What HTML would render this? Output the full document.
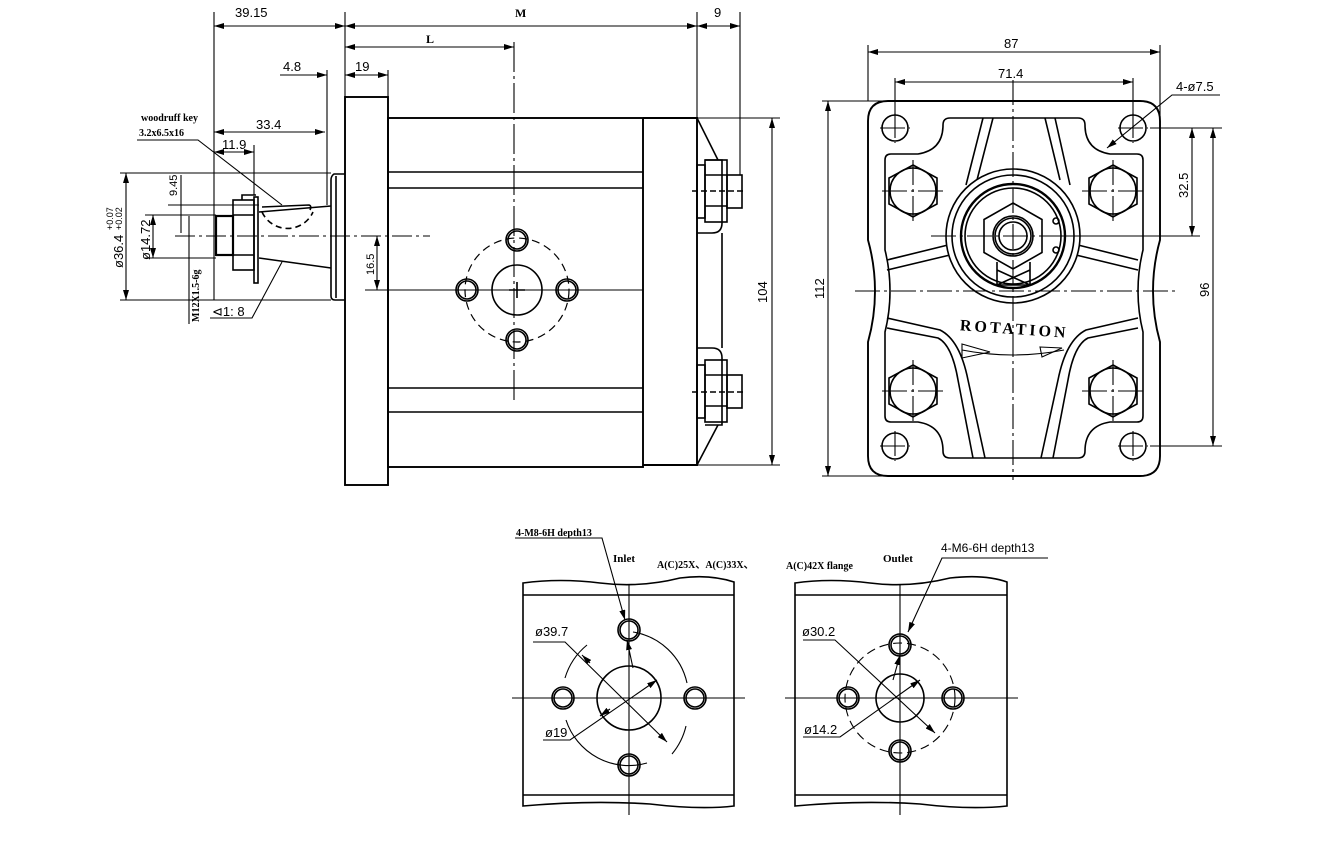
<!DOCTYPE html>
<html><head><meta charset="utf-8"><style>
html,body{margin:0;padding:0;background:#fff}
svg{display:block}
text{font-family:"Liberation Sans",sans-serif;fill:#000}
.b{font-family:"Liberation Serif",serif;font-weight:bold}
</style></head><body>
<svg width="1325" height="859" viewBox="0 0 1325 859" xmlns="http://www.w3.org/2000/svg">
<defs>
<marker id="a" viewBox="0 0 10 6" refX="10" refY="3" markerWidth="10" markerHeight="6" orient="auto-start-reverse" markerUnits="userSpaceOnUse"><path d="M0,0 L10,3 L0,6 z" fill="#000"/></marker>
</defs>
<g fill="none" stroke="#000" stroke-width="1.6">
<!-- ===== SIDE VIEW ===== -->
<rect x="345" y="97" width="43" height="388" stroke-width="1.9"/>
<rect x="388" y="118" width="255" height="349" stroke-width="1.9"/>
<line x1="388" y1="172" x2="643" y2="172"/><line x1="388" y1="188" x2="643" y2="188"/>
<line x1="388" y1="388" x2="643" y2="388"/><line x1="388" y1="412" x2="643" y2="412"/>
<path d="M643,118 L697,118 L697,465 L643,465" stroke-width="1.9"/>
<path d="M697,118 L718,160 M697,465 L718,425 M722,233 L722,348"/>
<path d="M697,233 L712,233 Q722,233 722,223 L722,160 L705,160"/>
<path d="M697,348 L712,348 Q722,348 722,358 L722,425 L705,425"/>
<!-- bolts -->
<rect x="697" y="165" width="8" height="53"/><rect x="705" y="160" width="22" height="62"/>
<line x1="705" y1="175" x2="727" y2="175"/><line x1="705" y1="206" x2="727" y2="206"/>
<rect x="727" y="175" width="15" height="33"/>
<rect x="697" y="365" width="8" height="53"/><rect x="705" y="360" width="22" height="62"/>
<line x1="705" y1="375" x2="727" y2="375"/><line x1="705" y1="406" x2="727" y2="406"/>
<rect x="727" y="375" width="15" height="33"/>
<line x1="692" y1="191" x2="745" y2="191" stroke-dasharray="6,3"/>
<line x1="692" y1="392" x2="745" y2="392" stroke-dasharray="6,3"/>
<!-- shaft -->
<path d="M345,174 L334,174 Q331,176 331,180 L331,296 Q331,300 335,300 L345,300"/>
<line x1="336" y1="176" x2="336" y2="298"/>
<path d="M331,206 L259,212 M331,268 L259,258"/>
<path d="M262,207 L309,205 Q312,206 310,210"/>
<path d="M262,212 A28,28 0 0 0 313,212" stroke-dasharray="6,4"/>
<rect x="254" y="197" width="4" height="86"/>
<rect x="233" y="200" width="21" height="70"/>
<line x1="233" y1="215" x2="254" y2="215"/><line x1="233" y1="255" x2="254" y2="255"/>
<rect x="216" y="216" width="17" height="39" stroke-width="2.2"/>
<path d="M242,200 L242,195 L256,195" />
<!-- center lines -->
<line x1="175" y1="236" x2="430" y2="236" stroke-dasharray="20,4,3,4" stroke-width="1.1"/>
<line x1="514" y1="42" x2="514" y2="400" stroke-dasharray="30,4,3,4" stroke-width="1.1"/>
<line x1="365" y1="290" x2="643" y2="290" stroke-width="1.1"/>
<!-- port -->
<circle cx="517" cy="290" r="25"/>
<path d="M509,290 h16 M517,282 v16"/>
<circle cx="517" cy="290" r="52" stroke-dasharray="8,5" stroke-width="1.2"/>
<g><circle cx="517" cy="240" r="9"/><circle cx="517" cy="240" r="11"/>
<circle cx="467" cy="290" r="9"/><circle cx="467" cy="290" r="11"/>
<circle cx="567" cy="290" r="9"/><circle cx="567" cy="290" r="11"/>
<circle cx="517" cy="340" r="9"/><circle cx="517" cy="340" r="11"/></g>
<!-- dims side -->
<g stroke-width="1.1">
<line x1="214" y1="12" x2="214" y2="300"/>
<line x1="345" y1="12" x2="345" y2="97"/>
<line x1="697" y1="12" x2="697" y2="118"/>
<line x1="740" y1="12" x2="740" y2="175"/>
<line x1="214" y1="26" x2="345" y2="26" marker-start="url(#a)" marker-end="url(#a)"/>
<line x1="345" y1="26" x2="697" y2="26" marker-start="url(#a)" marker-end="url(#a)"/>
<line x1="697" y1="26" x2="740" y2="26" marker-start="url(#a)" marker-end="url(#a)"/>
<line x1="345" y1="47" x2="514" y2="47" marker-start="url(#a)" marker-end="url(#a)"/>
<line x1="388" y1="70" x2="388" y2="97"/>
<line x1="327" y1="70" x2="327" y2="205"/>
<line x1="280" y1="75" x2="327" y2="75" marker-end="url(#a)"/>
<line x1="345" y1="75" x2="388" y2="75" marker-start="url(#a)" marker-end="url(#a)"/>
<line x1="214" y1="132" x2="325" y2="132" marker-start="url(#a)" marker-end="url(#a)"/>
<line x1="254" y1="145" x2="254" y2="195"/>
<line x1="214" y1="152" x2="254" y2="152" marker-start="url(#a)" marker-end="url(#a)"/>
<line x1="120" y1="173" x2="331" y2="173"/>
<line x1="120" y1="300" x2="331" y2="300"/>
<line x1="126" y1="173" x2="126" y2="300" marker-start="url(#a)" marker-end="url(#a)"/>
<line x1="145" y1="215" x2="216" y2="215"/>
<line x1="145" y1="258" x2="216" y2="258"/>
<line x1="153" y1="215" x2="153" y2="258" marker-start="url(#a)" marker-end="url(#a)"/>
<line x1="168" y1="205" x2="259" y2="205"/>
<line x1="181" y1="175" x2="181" y2="233"/>
<line x1="189" y1="216" x2="189" y2="324"/>
<line x1="377" y1="236" x2="377" y2="290" marker-start="url(#a)" marker-end="url(#a)"/>
<line x1="697" y1="118" x2="780" y2="118"/>
<line x1="697" y1="465" x2="780" y2="465"/>
<line x1="772" y1="118" x2="772" y2="465" marker-start="url(#a)" marker-end="url(#a)"/>
<path d="M137,140 L198,140 L282,205"/>
<path d="M210,318 L252,318 L282,262"/>
</g>
<!-- ===== FRONT VIEW ===== -->
<path d="M888,101 L1140,101 Q1160,101 1160,121 L1160,240 Q1153,265 1153,291 Q1153,317 1160,342 L1160,456 Q1160,476 1140,476 L888,476 Q868,476 868,456 L868,342 Q875,317 875,291 Q875,265 868,240 L868,121 Q868,101 888,101 Z" stroke-width="1.9"/>
<path d="M943,125 Q943,118 950,118 L1078,118 Q1085,118 1085,125 Q1085,150 1110,154 L1137,154 Q1143,154 1143,160 L1143,250 Q1138,270 1138,291 Q1138,312 1143,332 L1143,416 Q1143,422 1137,422 L1110,422 Q1085,426 1085,451 Q1085,458 1078,458 L950,458 Q943,458 943,451 Q943,426 918,422 L891,422 Q885,422 885,416 L885,332 Q890,312 890,291 Q890,270 885,250 L885,160 Q885,154 891,154 L918,154 Q943,150 943,125 Z"/>
<path d="M983,118 L966,185 M993,118 L977,180 M1045,118 L1060,180 M1055,118 L1070,185"/>
<path d="M887,260 L948,245 M887,270 L950,255 M1138,260 L1078,245 M1138,270 L1076,255"/>
<path d="M887,318 L940,330 Q960,340 968,380 L985,458 M887,328 L938,338 Q952,345 958,380 L973,458"/>
<path d="M1138,318 L1086,330 Q1066,340 1058,380 L1041,458 M1138,328 L1088,338 Q1074,345 1068,380 L1053,458"/>
<circle cx="895" cy="128" r="13"/><circle cx="1133" cy="128" r="13"/>
<circle cx="895" cy="446" r="13"/><circle cx="1133" cy="446" r="13"/>
<g id="hx"><polygon points="913,165 937,178 937,204 913,217 889,204 889,178"/><circle cx="913" cy="191" r="23"/></g>
<use href="#hx" x="200"/><use href="#hx" y="200"/><use href="#hx" x="200" y="200"/>
<circle cx="1013" cy="236" r="67" fill="#fff"/>
<circle cx="1013" cy="236" r="61"/>
<circle cx="1013" cy="236" r="52" stroke-width="2.4"/>
<circle cx="1013" cy="236" r="48"/>
<polygon points="1013,203 1042,219.5 1042,252.5 1013,269 984,252.5 984,219.5" fill="#fff"/>
<path d="M997,262 L997,285 L1030,285 L1030,262 M997,285 L1030,270 M1030,285 L997,270"/>
<circle cx="1013" cy="236" r="20"/><circle cx="1013" cy="236" r="18"/><circle cx="1013" cy="236" r="14"/>
<circle cx="1056" cy="221" r="3"/><circle cx="1056" cy="250" r="3"/>
<g stroke-width="1.1" stroke-dasharray="25,4,3,4">
<line x1="1013" y1="80" x2="1013" y2="480"/>
<line x1="855" y1="291" x2="1178" y2="291"/>
<line x1="931" y1="236" x2="1060" y2="236"/>
<line x1="880" y1="128" x2="910" y2="128"/><line x1="895" y1="113" x2="895" y2="143"/>
<line x1="1118" y1="128" x2="1148" y2="128"/><line x1="1133" y1="113" x2="1133" y2="143"/>
<line x1="880" y1="446" x2="910" y2="446"/><line x1="895" y1="431" x2="895" y2="461"/>
<line x1="1118" y1="446" x2="1148" y2="446"/><line x1="1133" y1="431" x2="1133" y2="461"/>
<line x1="882" y1="191" x2="945" y2="191"/><line x1="913" y1="160" x2="913" y2="222"/>
<line x1="1082" y1="191" x2="1145" y2="191"/><line x1="1113" y1="160" x2="1113" y2="222"/>
<line x1="882" y1="391" x2="945" y2="391"/><line x1="913" y1="360" x2="913" y2="422"/>
<line x1="1082" y1="391" x2="1145" y2="391"/><line x1="1113" y1="360" x2="1113" y2="422"/>
</g>
<path d="M962,350 Q1013,360 1064,350" stroke-width="1.1"/>
<path d="M962,344 L990,352 L962,358 Z M1040,347 L1062,348 L1042,357 Z" stroke-width="1.1"/>
<g stroke-width="1.1">
<line x1="868" y1="45" x2="868" y2="101"/><line x1="1160" y1="45" x2="1160" y2="125"/>
<line x1="868" y1="52" x2="1160" y2="52" marker-start="url(#a)" marker-end="url(#a)"/>
<line x1="895" y1="78" x2="895" y2="115"/><line x1="1133" y1="78" x2="1133" y2="115"/>
<line x1="895" y1="82" x2="1133" y2="82" marker-start="url(#a)" marker-end="url(#a)"/>
<line x1="822" y1="101" x2="888" y2="101"/><line x1="822" y1="476" x2="888" y2="476"/>
<line x1="828" y1="101" x2="828" y2="476" marker-start="url(#a)" marker-end="url(#a)"/>
<line x1="1150" y1="128" x2="1222" y2="128"/><line x1="1150" y1="446" x2="1222" y2="446"/>
<line x1="1060" y1="236" x2="1200" y2="236"/>
<line x1="1192" y1="128" x2="1192" y2="236" marker-start="url(#a)" marker-end="url(#a)"/>
<line x1="1213" y1="128" x2="1213" y2="446" marker-start="url(#a)" marker-end="url(#a)"/>
<path d="M1220,95 L1172,95 L1107,148" marker-end="url(#a)"/>
</g>
<!-- ===== BOTTOM VIEWS ===== -->
<path d="M523,806 L523,583 Q560,578 600,583 Q640,588 680,578 Q710,574 734,582 L734,806 Q700,810 650,804 Q590,800 523,806 Z"/>
<line x1="523" y1="595" x2="734" y2="595"/><line x1="523" y1="795" x2="734" y2="795"/>
<circle cx="629" cy="698" r="32"/>
<path d="M587,645 A68,68 0 0 0 565,678 M633,632 A66,66 0 0 1 687,683 M672,754 A68,68 0 0 0 686,726 M566,720 A66,66 0 0 0 647,763" stroke-width="1.1"/>
<g><circle cx="629" cy="630" r="9"/><circle cx="629" cy="630" r="11"/>
<circle cx="563" cy="698" r="9"/><circle cx="563" cy="698" r="11"/>
<circle cx="695" cy="698" r="9"/><circle cx="695" cy="698" r="11"/>
<circle cx="629" cy="765" r="9"/><circle cx="629" cy="765" r="11"/></g>
<g stroke-width="1.1">
<line x1="512" y1="698" x2="745" y2="698"/><line x1="629" y1="585" x2="629" y2="815"/>
<path d="M533,642 L565,642 L667,742" marker-end="url(#a)"/>
<path d="M582,655 L590,663" marker-start="url(#a)"/>
<path d="M543,740 L570,740 L657,680" marker-end="url(#a)"/>
<path d="M600,716 L610,709" marker-start="url(#a)"/>
<path d="M515,538 L602,538 L625,620" marker-end="url(#a)"/>
<path d="M633,668 L627,640" marker-end="url(#a)"/>
</g>
<path d="M795,806 L795,583 Q830,578 870,583 Q910,588 950,578 Q985,574 1007,582 L1007,806 Q970,810 920,804 Q860,800 795,806 Z"/>
<line x1="795" y1="595" x2="1007" y2="595"/><line x1="795" y1="795" x2="1007" y2="795"/>
<circle cx="900" cy="698" r="24"/>
<circle cx="900" cy="698" r="55" stroke-dasharray="9,5" stroke-width="1.1"/>
<g><circle cx="900" cy="645" r="9"/><circle cx="900" cy="645" r="11"/>
<circle cx="848" cy="698" r="9"/><circle cx="848" cy="698" r="11"/>
<circle cx="953" cy="698" r="9"/><circle cx="953" cy="698" r="11"/>
<circle cx="900" cy="751" r="9"/><circle cx="900" cy="751" r="11"/></g>
<g stroke-width="1.1">
<line x1="785" y1="698" x2="1018" y2="698"/><line x1="900" y1="585" x2="900" y2="815"/>
<path d="M803,640 L835,640 L935,733" marker-end="url(#a)"/>
<path d="M803,737 L840,737 L920,680" marker-end="url(#a)"/>
<path d="M1048,558 L942,558 L908,632" marker-end="url(#a)"/>
<path d="M893,680 L900,655" marker-end="url(#a)"/>
</g>
</g>
<!-- ===== TEXT ===== -->
<g font-size="13">
<text x="235" y="17">39.15</text>
<text x="515" y="17" class="b" font-size="12">M</text>
<text x="714" y="17">9</text>
<text x="426" y="43" class="b" font-size="12">L</text>
<text x="283" y="71">4.8</text>
<text x="355" y="71">19</text>
<text x="141" y="121" class="b" font-size="10">woodruff key</text>
<text x="139" y="136" class="b" font-size="10">3.2x6.5x16</text>
<text x="256" y="129">33.4</text>
<text x="222" y="149">11.9</text>
<text x="212" y="316">⊲1: 8</text>
<text transform="translate(177,196) rotate(-90)" font-size="11">9.45</text>
<text transform="translate(150,260) rotate(-90)">ø14.72</text>
<text transform="translate(123,268) rotate(-90)">ø36.4</text>
<text transform="translate(113,230) rotate(-90)" font-size="9">+0.07</text>
<text transform="translate(122,230) rotate(-90)" font-size="9">+0.02</text>
<text transform="translate(199,322) rotate(-90)" font-size="10" class="b">M12X1.5-6g</text>
<text transform="translate(374,275) rotate(-90)" font-size="11">16.5</text>
<text transform="translate(767,303) rotate(-90)">104</text>
<text x="1004" y="48">87</text>
<text x="998" y="78">71.4</text>
<text x="1176" y="91">4-ø7.5</text>
<text transform="translate(824,299) rotate(-90)">112</text>
<text transform="translate(1188,198) rotate(-90)">32.5</text>
<text transform="translate(1209,297) rotate(-90)">96</text>
<text x="960" y="334" class="b" font-size="16" letter-spacing="3" transform="rotate(4 1013 327)">ROTATION</text>
<text x="516" y="536" class="b" font-size="10">4-M8-6H depth13</text>
<text x="613" y="562" class="b" font-size="11">Inlet</text>
<text x="657" y="568" class="b" font-size="10">A(C)25X、A(C)33X、</text>
<text x="786" y="569" class="b" font-size="10">A(C)42X  flange</text>
<text x="883" y="562" class="b" font-size="11">Outlet</text>
<text x="941" y="552" font-size="12">4-M6-6H depth13</text>
<text x="535" y="636">ø39.7</text>
<text x="545" y="737">ø19</text>
<text x="802" y="636">ø30.2</text>
<text x="804" y="734">ø14.2</text>
</g>
</svg>
</body></html>
